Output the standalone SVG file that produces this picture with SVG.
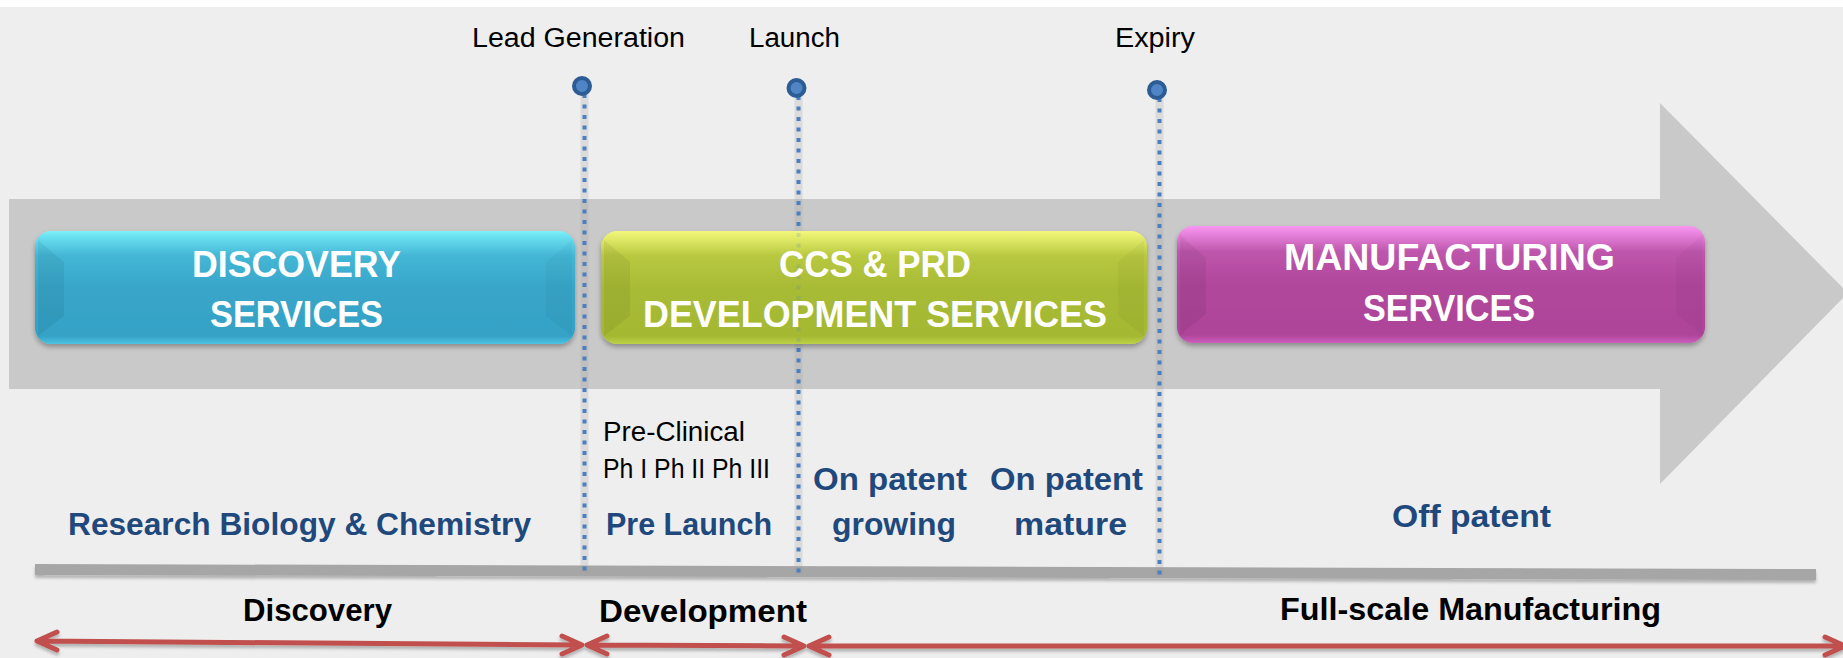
<svg xmlns="http://www.w3.org/2000/svg" width="1843" height="658" viewBox="0 0 1843 658">
<style>
.top{font-family:"Liberation Sans",Arial,sans-serif;font-size:27px;fill:#000}
.box{font-family:"Liberation Sans",Arial,sans-serif;font-size:37px;font-weight:bold;fill:#fff}
.blue{font-family:"Liberation Sans",Arial,sans-serif;font-size:32px;font-weight:bold;fill:#1f497d}
.ph{font-family:"Liberation Sans",Arial,sans-serif;font-size:27px;fill:#000}
.stage{font-family:"Liberation Sans",Arial,sans-serif;font-size:31px;font-weight:bold;fill:#000}
.halo{stroke:#9a9a9a;stroke-opacity:0.22;stroke-width:8;fill:none}
.dots{stroke:#4a7fc2;stroke-width:4;stroke-dasharray:4 6.5;fill:none}
.red{stroke:#c0504d;stroke-width:5;fill:none;stroke-linecap:round;stroke-linejoin:round}
.dot{fill:#4f85c5;stroke:#2d5c94;stroke-width:4}
</style>
<defs>
<filter id="sh" x="-5%" y="-20%" width="110%" height="150%">
<feDropShadow dx="0" dy="3" stdDeviation="2.5" flood-color="#000" flood-opacity="0.3"/>
</filter>
<filter id="sh2" x="-5%" y="-50%" width="110%" height="250%">
<feDropShadow dx="0" dy="3" stdDeviation="1.5" flood-color="#000" flood-opacity="0.25"/>
</filter>
<linearGradient id="gBlue" x1="0" y1="0" x2="0" y2="1">
<stop offset="0" stop-color="#7ef2f7"/>
<stop offset="0.05" stop-color="#6ae0f0"/>
<stop offset="0.22" stop-color="#44b6d6"/>
<stop offset="0.5" stop-color="#38a6c9"/>
<stop offset="0.93" stop-color="#35a2c6"/>
<stop offset="1" stop-color="#4cc2e2"/>
</linearGradient>
<linearGradient id="gGreen" x1="0" y1="0" x2="0" y2="1">
<stop offset="0" stop-color="#f4f67c"/>
<stop offset="0.05" stop-color="#e6ee6c"/>
<stop offset="0.22" stop-color="#b8c840"/>
<stop offset="0.5" stop-color="#a8bb35"/>
<stop offset="0.93" stop-color="#a5b832"/>
<stop offset="1" stop-color="#bed246"/>
</linearGradient>
<linearGradient id="gPink" x1="0" y1="0" x2="0" y2="1">
<stop offset="0" stop-color="#f898f2"/>
<stop offset="0.05" stop-color="#ec88e2"/>
<stop offset="0.22" stop-color="#be56ac"/>
<stop offset="0.5" stop-color="#b1479c"/>
<stop offset="0.93" stop-color="#ae4499"/>
<stop offset="1" stop-color="#cc5ebc"/>
</linearGradient>
</defs>

<rect x="0" y="0" width="1843" height="658" fill="#ffffff"/>
<rect x="0" y="7" width="1843" height="651" fill="#eeeeee"/>

<g id="band">
<polygon points="9,199 1660,199 1660,103 1848,293 1660,484 1660,389 9,389" fill="#c9c9c9"/>
</g>

<g id="baseline-bar">
<polygon points="35,564 1816,569 1816,580 35,575" fill="#a6a6a6" filter="url(#sh2)"/>
</g>

<g id="connectors">
<line class="halo" x1="584.5" y1="92" x2="584.5" y2="572"/>
<line class="dots" x1="584.5" y1="94" x2="584.5" y2="572"/>
<line class="halo" x1="798.5" y1="94" x2="798.5" y2="574"/>
<line class="dots" x1="798.5" y1="96" x2="798.5" y2="574"/>
<line class="halo" x1="1159.5" y1="96" x2="1159.5" y2="576"/>
<line class="dots" x1="1159.5" y1="98" x2="1159.5" y2="576"/>
<circle class="dot" cx="582" cy="86" r="8"/>
<circle class="dot" cx="796.5" cy="88" r="8"/>
<circle class="dot" cx="1157" cy="90" r="8"/>
</g>

<g id="discovery-services">
<rect x="35" y="231" width="540" height="113" rx="16" fill="url(#gBlue)" filter="url(#sh)"/>
<polygon points="38,240 64,262 64,316 38,336" fill="#000" fill-opacity="0.06"/>
<polygon points="572,240 546,262 546,316 572,336" fill="#000" fill-opacity="0.03"/>
<text class="box" x="192" y="277" textLength="209" lengthAdjust="spacingAndGlyphs">DISCOVERY</text>
<text class="box" x="210" y="327" textLength="173" lengthAdjust="spacingAndGlyphs">SERVICES</text>
</g>

<g id="ccs-prd-development-services">
<rect x="601" y="231" width="546" height="113" rx="16" fill="url(#gGreen)" filter="url(#sh)"/>
<polygon points="604,240 630,262 630,316 604,336" fill="#000" fill-opacity="0.06"/>
<polygon points="1144,240 1118,262 1118,316 1144,336" fill="#000" fill-opacity="0.03"/>
<line class="dots" x1="798.5" y1="233" x2="798.5" y2="343" stroke-opacity="0.18"/>
<text class="box" x="779" y="277" textLength="192" lengthAdjust="spacingAndGlyphs">CCS &amp; PRD</text>
<text class="box" x="643" y="327" textLength="464" lengthAdjust="spacingAndGlyphs">DEVELOPMENT SERVICES</text>
</g>

<g id="manufacturing-services">
<rect x="1177" y="226" width="528" height="117" rx="16" fill="url(#gPink)" filter="url(#sh)"/>
<polygon points="1180,235 1206,258 1206,314 1180,335" fill="#000" fill-opacity="0.06"/>
<polygon points="1702,235 1676,258 1676,314 1702,335" fill="#000" fill-opacity="0.03"/>
<text class="box" x="1284" y="270" textLength="331" lengthAdjust="spacingAndGlyphs">MANUFACTURING</text>
<text class="box" x="1363" y="321" textLength="172" lengthAdjust="spacingAndGlyphs">SERVICES</text>
</g>

<g id="milestones">
<text class="top" x="472" y="47" textLength="213" lengthAdjust="spacingAndGlyphs">Lead Generation</text>
<text class="top" x="749" y="47" textLength="91" lengthAdjust="spacingAndGlyphs">Launch</text>
<text class="top" x="1115" y="47" textLength="80" lengthAdjust="spacingAndGlyphs">Expiry</text>
</g>

<g id="phases">
<text class="blue" x="68" y="535" textLength="463" lengthAdjust="spacingAndGlyphs">Research Biology &amp; Chemistry</text>
<text class="ph" x="603" y="441" textLength="142" lengthAdjust="spacingAndGlyphs">Pre-Clinical</text>
<text class="ph" x="603" y="478" textLength="167" lengthAdjust="spacingAndGlyphs">Ph I Ph II Ph III</text>
<text class="blue" x="606" y="535" textLength="166" lengthAdjust="spacingAndGlyphs">Pre Launch</text>
<text class="blue" x="813" y="490" textLength="154" lengthAdjust="spacingAndGlyphs">On patent</text>
<text class="blue" x="832" y="535" textLength="124" lengthAdjust="spacingAndGlyphs">growing</text>
<text class="blue" x="990" y="490" textLength="153" lengthAdjust="spacingAndGlyphs">On patent</text>
<text class="blue" x="1014" y="535" textLength="113" lengthAdjust="spacingAndGlyphs">mature</text>
<text class="blue" x="1392" y="527" textLength="159" lengthAdjust="spacingAndGlyphs">Off patent</text>
</g>

<g id="stages">
<text class="stage" x="243" y="621" textLength="149" lengthAdjust="spacingAndGlyphs">Discovery</text>
<text class="stage" x="599" y="622" textLength="208" lengthAdjust="spacingAndGlyphs">Development</text>
<text class="stage" x="1280" y="620" textLength="381" lengthAdjust="spacingAndGlyphs">Full-scale Manufacturing</text>
</g>

<g id="stage-arrows" filter="url(#sh2)">
<path class="red" d="M37,641 L582,645 M57,632 L37,641 L57,650 M562,636 L582,645 L562,654"/>
<path class="red" d="M587,645 L804,646 M607,636 L587,645 L607,654 M784,637 L804,646 L784,655"/>
<path class="red" d="M809,646 L1845,646 M829,637 L809,646 L829,655 M1825,637 L1845,646 L1825,655"/>
</g>
</svg>
